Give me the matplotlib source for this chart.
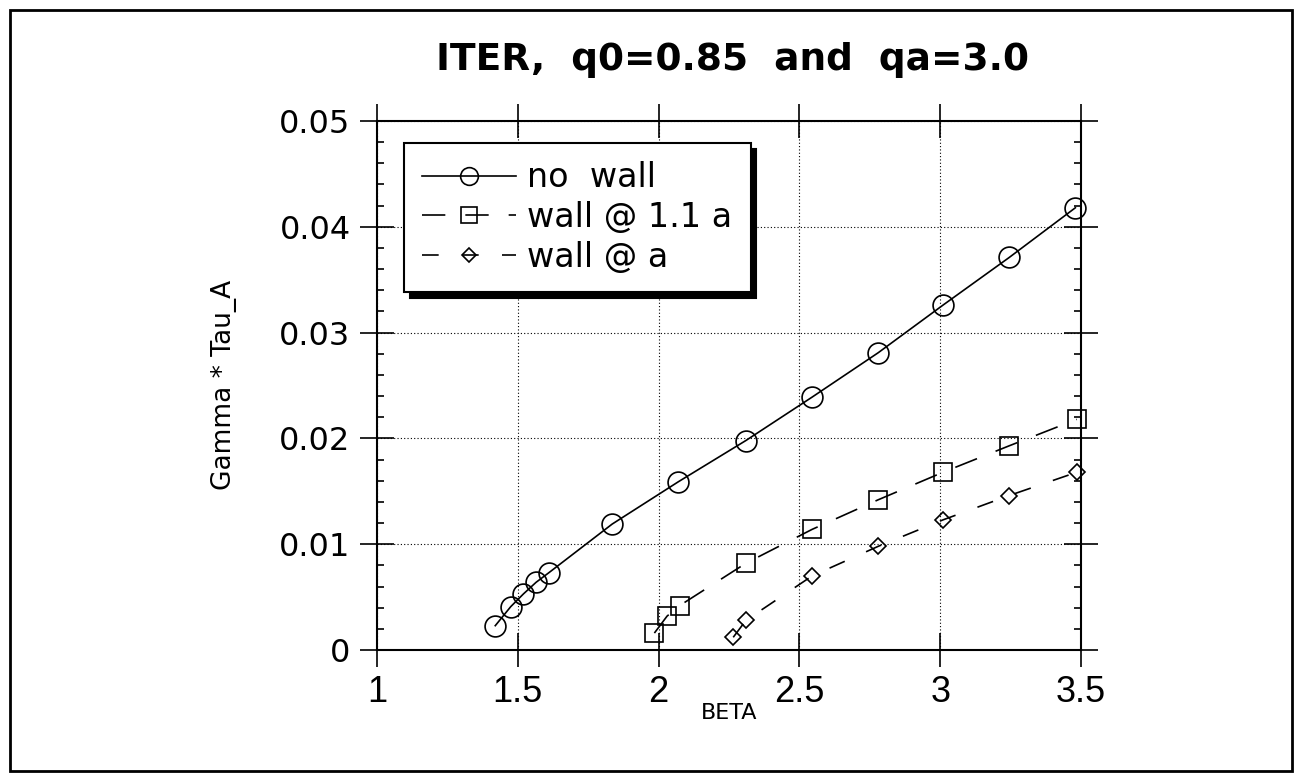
import matplotlib
matplotlib.use("Agg")
import matplotlib.pyplot as plt
from matplotlib.ticker import MultipleLocator
from matplotlib.patches import Rectangle

# values
no_wall_beta = [1.42, 1.475, 1.52, 1.565, 1.61, 1.835, 2.07, 2.31, 2.545, 2.78, 3.01, 3.245, 3.48]
no_wall_gamma = [0.0023, 0.0041, 0.0053, 0.0064, 0.0073, 0.0119, 0.0159, 0.0198,
                 0.0239, 0.0281, 0.0326, 0.0371, 0.0418]

wall11_beta = [1.985, 2.03, 2.075, 2.31, 2.545, 2.78, 3.01, 3.245, 3.485]
wall11_gamma = [0.0016, 0.0032, 0.0042, 0.0082, 0.0114, 0.0142, 0.0168, 0.0193, 0.0218]

wall_beta = [2.265, 2.31, 2.545, 2.78, 3.01, 3.245, 3.485]
wall_gamma = [0.0012, 0.0028, 0.0070, 0.0098, 0.0123, 0.0146, 0.0168]

x_ticks = [1, 1.5, 2, 2.5, 3, 3.5]
x_tick_labels = ['1', '1.5', '2', '2.5', '3', '3.5']
y_ticks = [0, 0.01, 0.02, 0.03, 0.04, 0.05]
y_tick_labels = ['0', '0.01', '0.02', '0.03', '0.04', '0.05']

W, H = 1302, 781
fig = plt.figure(figsize=(W / 100, H / 100), dpi=100)
ax = fig.add_axes([377 / W, 1 - 650 / H, 704 / W, 529 / H])

ax.plot(no_wall_beta, no_wall_gamma, color='black', lw=1.2, marker='o', ms=15,
        mfc='none', mec='black', mew=1.2, clip_on=False, label='no  wall')
ax.plot(wall11_beta, wall11_gamma, color='black', lw=1.2, ls=(0, (14, 12)), marker='s', ms=13,
        mfc='none', mec='black', mew=1.2, clip_on=False, label='wall @ 1.1 a')
ax.plot(wall_beta, wall_gamma, color='black', lw=1.2, ls=(0, (10, 14)), marker='D', ms=8.5,
        mfc='none', mec='black', mew=1.2, clip_on=False, label='wall @ a')

ax.set_xlim(1, 3.5)
ax.set_ylim(0, 0.05)
ax.set_xticks(x_ticks)
ax.set_xticklabels(x_tick_labels, family='Liberation Sans', fontsize=26)
ax.set_yticks(y_ticks)
ax.set_yticklabels(y_tick_labels, family='DejaVu Sans', fontsize=23)
ax.yaxis.set_minor_locator(MultipleLocator(0.002))

ax.tick_params(which='major', direction='inout', length=24, width=1.2,
               top=True, right=True, color='black')
ax.tick_params(axis='x', which='major', pad=6)
ax.tick_params(axis='y', which='major', pad=7)
ax.tick_params(axis='y', which='minor', direction='in', length=5, width=1.2,
               left=True, right=True)
for s in ax.spines.values():
    s.set_linewidth(1.5)

ax.grid(True, which='major', color='black', linestyle=(0, (1, 2)), lw=0.8)
ax.set_axisbelow(True)

leg = ax.legend(loc='upper left', bbox_to_anchor=(27 / 704, 1 - 22 / 529), borderaxespad=0,
                prop={'family': 'DejaVu Sans', 'size': 24}, frameon=True, fancybox=False,
                edgecolor='black', framealpha=1, numpoints=1, handlelength=2.8,
                handletextpad=0.35, labelspacing=0.2, borderpad=0.55, markerscale=0.85,
                shadow={'ox': 4, 'oy': -4.5, 'color': 'black', 'alpha': 1})
leg.get_frame().set_linewidth(1.5)

fig.text(733 / W, 1 - 70 / H, 'ITER,  q0=0.85  and  qa=3.0', ha='center', va='baseline',
         family='DejaVu Sans', fontweight='bold', fontsize=27)
fig.text(729 / W, 1 - 713 / H, 'BETA', ha='center', va='center',
         family='DejaVu Sans', fontsize=16)
fig.text(224 / W, 1 - 385 / H, 'Gamma * Tau_A', ha='center', va='center', rotation=90,
         family='DejaVu Sans', fontsize=19)

# frame around the whole picture
fig.add_artist(Rectangle((10 / W, 10 / H), 1282 / W, 761 / H, transform=fig.transFigure,
                         fill=False, lw=2, edgecolor='black'))

fig.savefig('out.png', dpi=100)
